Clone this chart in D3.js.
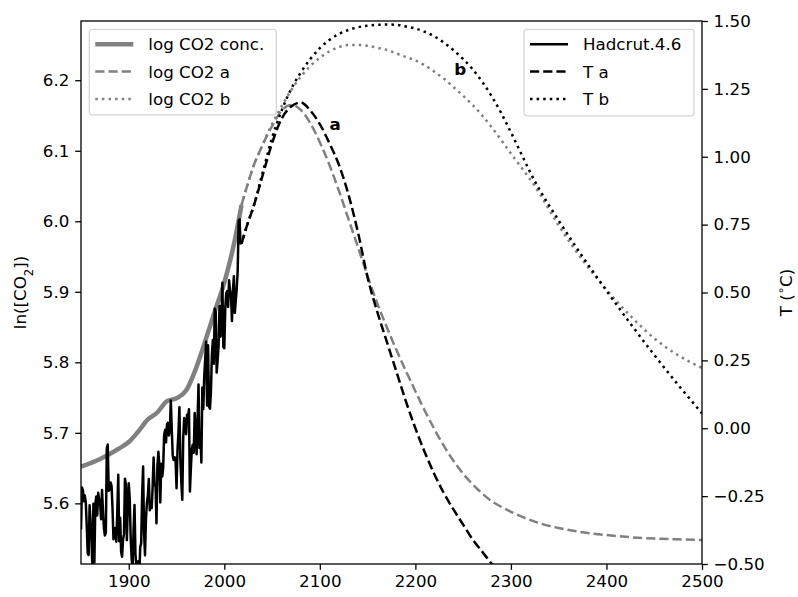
<!DOCTYPE html>
<html>
<head>
<meta charset="utf-8">
<script src="https://cdn.jsdelivr.net/npm/d3@7"></script>
<style>
  body { margin: 0; background: #fff; }
  svg text { font-family: "DejaVu Sans", sans-serif; fill: #000; }
</style>
</head>
<body>
<div id="chart"></div>
<script>
// observed record
var hadStart = 1850;
var hadcrut = [
  -0.373, -0.218, -0.228, -0.269, -0.248, -0.272, -0.358, -0.461, -0.467, -0.284,
  -0.343, -0.407, -0.524, -0.278, -0.494, -0.279, -0.251, -0.321, -0.238, -0.262,
  -0.276, -0.335, -0.227, -0.304, -0.368, -0.395, -0.384, -0.075, -0.060, -0.230,
  -0.227, -0.200, -0.213, -0.296, -0.409, -0.389, -0.367, -0.418, -0.307, -0.171,
  -0.416, -0.330, -0.455, -0.473, -0.410, -0.390, -0.186, -0.206, -0.412, -0.289,
  -0.203, -0.259, -0.402, -0.479, -0.520, -0.377, -0.283, -0.465, -0.511, -0.522,
  -0.490, -0.544, -0.437, -0.424, -0.244, -0.141, -0.383, -0.468, -0.333, -0.275,
  -0.247, -0.187, -0.302, -0.276, -0.294, -0.215, -0.108, -0.210, -0.206, -0.350,
  -0.137, -0.087, -0.137, -0.273, -0.131, -0.178, -0.147, -0.026, -0.006, -0.052,
   0.014,  0.020, -0.027, -0.010,  0.102, -0.003, -0.100, -0.117, -0.107, -0.117,
  -0.221, -0.081, -0.015,  0.077, -0.116, -0.197, -0.263, -0.034,  0.038,  0.024,
  -0.022,  0.050,  0.038,  0.070, -0.233, -0.148, -0.076, -0.061, -0.090,  0.056,
  -0.011, -0.096,  0.029,  0.161, -0.073, -0.023, -0.126,  0.150,  0.071,  0.191,
   0.255,  0.319,  0.084,  0.306,  0.080,  0.072,  0.135,  0.271,  0.325,  0.238,
   0.441,  0.429,  0.205,  0.249,  0.303,  0.450,  0.337,  0.392,  0.536,  0.299,
   0.295,  0.441,  0.497,  0.505,  0.447,  0.545,  0.506,  0.491,  0.395,  0.506,
   0.560,  0.425,  0.470,  0.514,  0.579,  0.763,  0.770,  0.677
];

var co2Years = [1850, 1860, 1870, 1880, 1890, 1900, 1910, 1920, 1930, 1940, 1950,
                1960, 1970, 1980, 1990, 2000, 2010, 2018];
var co2Obs = [5.652, 5.657, 5.663, 5.670, 5.678, 5.687, 5.702, 5.719, 5.729, 5.745, 5.749,
              5.760, 5.790, 5.830, 5.872, 5.913, 5.967, 6.023];

// scenarios
var scenYears = [2018, 2025, 2030, 2040, 2050, 2060, 2070, 2080, 2090, 2100,
                 2110, 2120, 2130, 2140, 2150, 2160, 2170, 2180, 2190, 2200,
                 2210, 2220, 2230, 2240, 2250, 2260, 2270, 2280, 2290, 2300,
                 2325, 2350, 2375, 2400, 2425, 2450, 2475, 2500];
var co2A = [6.023, 6.055, 6.076, 6.108, 6.135, 6.157, 6.165, 6.158, 6.139, 6.112,
            6.080, 6.043, 6.003, 5.963, 5.922, 5.884, 5.850, 5.818, 5.788, 5.759,
            5.731, 5.705, 5.681, 5.660, 5.642, 5.627, 5.614, 5.603, 5.595, 5.588,
            5.574, 5.565, 5.559, 5.555, 5.552, 5.550, 5.549, 5.548];
var co2B = [6.023, 6.055, 6.076, 6.108, 6.138, 6.163, 6.186, 6.205, 6.220, 6.232,
            6.241, 6.247, 6.250, 6.250, 6.249, 6.246, 6.243, 6.238, 6.233, 6.228,
            6.221, 6.212, 6.202, 6.190, 6.178, 6.165, 6.150, 6.133, 6.115, 6.096,
            6.050, 5.994, 5.945, 5.903, 5.866, 5.834, 5.810, 5.792];
var tA = [0.68, 0.76, 0.81, 0.93, 1.05, 1.14, 1.185, 1.20, 1.17, 1.12,
          1.05, 0.97, 0.86, 0.72, 0.555, 0.43, 0.32, 0.21, 0.10, 0.00,
          -0.09, -0.17, -0.24, -0.30, -0.355, -0.41, -0.455, -0.50, -0.545, -0.59,
          null, null, null, null, null, null, null, null];
var tB = [0.68, 0.76, 0.81, 0.94, 1.07, 1.17, 1.25, 1.31, 1.36, 1.40,
          1.43, 1.452, 1.467, 1.477, 1.483, 1.486, 1.487, 1.486, 1.480, 1.472,
          1.460, 1.443, 1.420, 1.392, 1.360, 1.322, 1.276, 1.222, 1.160, 1.090,
          0.910, 0.765, 0.632, 0.507, 0.386, 0.270, 0.160, 0.055];

var xTicks = [1900, 2000, 2100, 2200, 2300, 2400, 2500];
var leftTicks = [5.6, 5.7, 5.8, 5.9, 6.0, 6.1, 6.2];
var rightTicks = [-0.5, -0.25, 0, 0.25, 0.5, 0.75, 1.0, 1.25, 1.5];

var leftKeys = [
  { name: "log CO2 conc.", color: "#808080", width: 4.5, dash: null },
  { name: "log CO2 a", color: "#808080", width: 2.5, dash: "9.2,4" },
  { name: "log CO2 b", color: "#808080", width: 2.5, dash: "2.5,4.1" }
];
var rightKeys = [
  { name: "Hadcrut.4.6", color: "#000", width: 2.5, dash: null },
  { name: "T a", color: "#000", width: 2.5, dash: "9.2,4" },
  { name: "T b", color: "#000", width: 2.5, dash: "2.5,4.1" }
];
var notes = [{ text: "a", year: 2116, t: 1.12 }, { text: "b", year: 2247, t: 1.325 }];

var W = 798, H = 597;
var margin = { left: 81, right: 96, top: 21, bottom: 33 };
var fs = 16.7;

var x = d3.scaleLinear().domain([1850, 2500]).range([margin.left, W - margin.right]);
var yL = d3.scaleLinear().domain([5.514, 6.284]).range([H - margin.bottom, margin.top]);
var yR = d3.scaleLinear().domain([-0.5, 1.5]).range([H - margin.bottom, margin.top]);

var svg = d3.select("#chart").append("svg")
    .attr("width", W)
    .attr("height", H);

svg.append("clipPath").attr("id", "plotclip")
  .append("rect")
    .attr("x", x(1850)).attr("y", yR(1.5))
    .attr("width", x(2500) - x(1850))
    .attr("height", yR(-0.5) - yR(1.5));

var plot = svg.append("g").attr("clip-path", "url(#plotclip)");

function drawLine(g, xs, ys, yScale, key) {
  var pts = xs.map(function(d, i) { return [d, ys[i]]; });
  var line = d3.line()
      .defined(function(d) { return d[1] != null; })
      .x(function(d) { return x(d[0]); })
      .y(function(d) { return yScale(d[1]); });
  if (key.smooth) line.curve(d3.curveMonotoneX);
  g.append("path")
      .attr("d", line(pts))
      .attr("fill", "none")
      .attr("stroke", key.color)
      .attr("stroke-width", key.width)
      .attr("stroke-dasharray", key.dash)
      .attr("stroke-linejoin", "round");
}

function smooth(k) { return Object.assign({ smooth: true }, k); }

var hadYears = hadcrut.map(function(d, i) { return hadStart + i; });

// left axis lines
drawLine(plot, co2Years, co2Obs, yL, smooth(leftKeys[0]));
drawLine(plot, scenYears, co2A, yL, smooth(leftKeys[1]));
drawLine(plot, scenYears, co2B, yL, smooth(leftKeys[2]));

function drawLegend(keys, left, top, w, h) {
  var g = svg.append("g").attr("transform", "translate(" + left + "," + top + ")");
  g.append("rect")
      .attr("width", w).attr("height", h)
      .attr("rx", 2.8)
      .attr("fill", "#fff").attr("fill-opacity", 0.8)
      .attr("stroke", "#d6d6d6").attr("stroke-width", 1.3);
  keys.forEach(function(k, i) {
    var cy = 15 + i * 27.3;
    g.append("line")
        .attr("x1", 6).attr("x2", 44)
        .attr("y1", cy).attr("y2", cy)
        .attr("stroke", k.color)
        .attr("stroke-width", k.width)
        .attr("stroke-dasharray", k.dash);
    g.append("text")
        .attr("x", 59).attr("y", cy)
        .attr("dy", "0.36em")
        .style("font-size", fs + "px")
        .text(k.name);
  });
}

drawLegend(leftKeys, 89.3, 29.3, 187, 85.5);

// right axis lines
drawLine(plot, hadYears, hadcrut, yR, rightKeys[0]);
drawLine(plot, scenYears, tA, yR, smooth(rightKeys[1]));
drawLine(plot, scenYears, tB, yR, smooth(rightKeys[2]));

drawLegend(rightKeys, 524, 29.3, 170, 86.5);

notes.forEach(function(n) {
  svg.append("text")
      .attr("x", x(n.year)).attr("y", yR(n.t))
      .attr("text-anchor", "middle")
      .attr("dy", "0.36em")
      .style("font-size", fs + "px")
      .style("font-weight", "bold")
      .text(n.text);
});

// axes
function styleAxis(g) {
  g.select(".domain").remove();
  g.selectAll(".tick line").attr("stroke", "#000").attr("stroke-width", 1.3);
  g.selectAll(".tick text")
      .style("font-size", fs + "px")
      .style("font-family", "'DejaVu Sans', sans-serif")
      .attr("fill", "#000");
}

svg.append("g")
    .attr("transform", "translate(0," + (H - margin.bottom) + ")")
    .call(d3.axisBottom(x).tickValues(xTicks).tickFormat(d3.format("d"))
      .tickSize(5.8).tickPadding(5.8))
    .call(styleAxis);

svg.append("g")
    .attr("transform", "translate(" + margin.left + ",0)")
    .call(d3.axisLeft(yL).tickValues(leftTicks).tickFormat(d3.format(".1f"))
      .tickSize(5.8).tickPadding(5.8))
    .call(styleAxis);

svg.append("g")
    .attr("transform", "translate(" + (W - margin.right) + ",0)")
    .call(d3.axisRight(yR).tickValues(rightTicks).tickFormat(d3.format(".2f"))
      .tickSize(5.8).tickPadding(5.8))
    .call(styleAxis);

svg.append("rect")
    .attr("x", x(1850)).attr("y", yR(1.5))
    .attr("width", x(2500) - x(1850))
    .attr("height", yR(-0.5) - yR(1.5))
    .attr("fill", "none")
    .attr("stroke", "#000")
    .attr("stroke-width", 1.3);

// axis labels
var midY = (yR(1.5) + yR(-0.5)) / 2;
var ll = svg.append("text")
    .attr("transform", "translate(20," + midY + ") rotate(-90)")
    .attr("text-anchor", "middle")
    .attr("dy", "0.36em")
    .style("font-size", fs + "px");
ll.append("tspan").text("ln([CO");
ll.append("tspan").attr("baseline-shift", "sub").style("font-size", (fs * 0.7) + "px").text("2");
ll.append("tspan").text("])");

var rl = svg.append("text")
    .attr("transform", "translate(786," + midY + ") rotate(-90)")
    .attr("text-anchor", "middle")
    .attr("dy", "0.36em")
    .style("font-size", fs + "px");
rl.append("tspan").text("T (");
rl.append("tspan").attr("baseline-shift", "super").style("font-size", (fs * 0.7) + "px").text("\u2218");
rl.append("tspan").text("C)");
</script>
</body>
</html>
